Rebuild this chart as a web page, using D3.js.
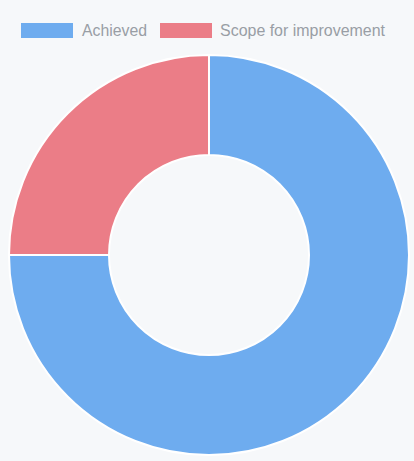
<!DOCTYPE html>
<html>
<head>
<meta charset="utf-8">
<script src="https://cdn.jsdelivr.net/npm/d3@7"></script>
<style>
  html, body { margin: 0; padding: 0; background: #f6f8fa; }
  svg { display: block; }
</style>
</head>
<body>
<svg id="chart" width="414" height="461"></svg>
<script>
const categories = ["Achieved", "Scope for improvement"];
const values = [75, 25];
const colors = ["#6eacef", "#eb7d87"];

const svg = d3.select("#chart");
const width = 414, height = 461;

// Legend
const legend = svg.append("g").attr("font-family", "Liberation Sans, Arial, sans-serif")
  .attr("font-size", 16).attr("fill", "#999ea5");
const legendItems = [{x: 21, tx: 82, w: 65}, {x: 160, tx: 220, w: 165}];
categories.forEach((c, i) => {
  legend.append("rect").attr("x", legendItems[i].x).attr("y", 23)
    .attr("width", 52).attr("height", 15).attr("fill", colors[i]);
  legend.append("text").attr("x", legendItems[i].tx).attr("y", 36)
    .attr("textLength", legendItems[i].w).attr("lengthAdjust", "spacingAndGlyphs")
    .text(c);
});

// Donut
const cx = 209, cy = 255, outerR = 200, innerR = 100;
const pie = d3.pie().sort(null).value(d => d)(values);
const arc = d3.arc().innerRadius(innerR).outerRadius(outerR);
const g = svg.append("g").attr("transform", `translate(${cx},${cy})`);
g.selectAll("path").data(pie).join("path")
  .attr("d", arc)
  .attr("fill", (d, i) => colors[i])
  .attr("stroke", "#ffffff")
  .attr("stroke-width", 2);
</script>
</body>
</html>
